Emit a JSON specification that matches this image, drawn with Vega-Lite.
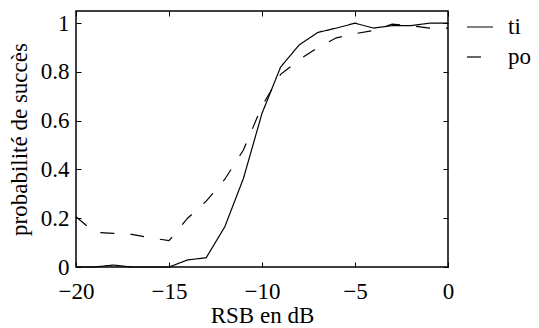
{
  "$schema": "https://vega.github.io/schema/vega-lite/v6.json",
  "width": 372,
  "height": 256,
  "autosize": {"type": "none"},
  "padding": {"left": 76, "top": 11, "right": 91, "bottom": 61},
  "background": "white",
  "config": {
    "view": {"stroke": "black", "strokeWidth": 1.5},
    "font": "Liberation Serif",
    "axis": {
      "labelFont": "Liberation Serif",
      "titleFont": "Liberation Serif",
      "labelFontSize": 23,
      "titleFontSize": 23,
      "titleFontWeight": "normal",
      "labelColor": "black",
      "titleColor": "black",
      "tickColor": "black",
      "domain": false,
      "grid": false,
      "tickSize": -5,
      "tickWidth": 1,
      "labelFlush": false
    },
    "legend": {"labelFont": "Liberation Serif"}
  },
  "data": {
    "values": [
      {"x": -20, "p": 0, "s": "ti"}, {"x": -19, "p": 0, "s": "ti"}, {"x": -18, "p": 0.008, "s": "ti"},
      {"x": -17, "p": 0, "s": "ti"}, {"x": -16, "p": 0, "s": "ti"}, {"x": -15, "p": 0, "s": "ti"},
      {"x": -14, "p": 0.029, "s": "ti"}, {"x": -13, "p": 0.038, "s": "ti"}, {"x": -12, "p": 0.165, "s": "ti"},
      {"x": -11, "p": 0.363, "s": "ti"}, {"x": -10, "p": 0.63, "s": "ti"}, {"x": -9, "p": 0.82, "s": "ti"},
      {"x": -8, "p": 0.911, "s": "ti"}, {"x": -7, "p": 0.962, "s": "ti"}, {"x": -6, "p": 0.98, "s": "ti"},
      {"x": -5, "p": 1.0, "s": "ti"}, {"x": -4, "p": 0.98, "s": "ti"}, {"x": -3, "p": 0.99, "s": "ti"},
      {"x": -2, "p": 0.99, "s": "ti"}, {"x": -1, "p": 1.0, "s": "ti"}, {"x": 0, "p": 1.0, "s": "ti"},
      {"x": -20, "p": 0.206, "s": "po"}, {"x": -19, "p": 0.142, "s": "po"}, {"x": -18, "p": 0.138, "s": "po"},
      {"x": -17, "p": 0.134, "s": "po"}, {"x": -16, "p": 0.12, "s": "po"}, {"x": -15, "p": 0.108, "s": "po"},
      {"x": -14, "p": 0.2, "s": "po"}, {"x": -13, "p": 0.27, "s": "po"}, {"x": -12, "p": 0.36, "s": "po"},
      {"x": -11, "p": 0.48, "s": "po"}, {"x": -10, "p": 0.66, "s": "po"}, {"x": -9, "p": 0.79, "s": "po"},
      {"x": -8, "p": 0.85, "s": "po"}, {"x": -7, "p": 0.9, "s": "po"}, {"x": -6, "p": 0.94, "s": "po"},
      {"x": -5, "p": 0.957, "s": "po"}, {"x": -4, "p": 0.97, "s": "po"}, {"x": -3, "p": 0.996, "s": "po"},
      {"x": -2, "p": 0.99, "s": "po"}, {"x": -1, "p": 0.98, "s": "po"}, {"x": 0, "p": 0.98, "s": "po"}
    ]
  },
  "layer": [
    {
      "mark": {"type": "line", "color": "black", "strokeWidth": 1.2},
      "encoding": {
        "x": {"field": "x", "type": "quantitative", "scale": {"domain": [-20, 0], "nice": false, "zero": false},
              "axis": {"values": [-20, -15, -10, -5, 0], "title": "RSB en dB", "labelPadding": 18, "titlePadding": 1}},
        "y": {"field": "p", "type": "quantitative", "scale": {"domain": [0, 1.05], "nice": false},
              "axis": {"values": [0, 0.2, 0.4, 0.6, 0.8, 1], "format": "~g", "title": "probabilité de succès", "labelPadding": 12, "titlePadding": 9}},
        "strokeDash": {"field": "s", "type": "nominal",
          "scale": {"domain": ["ti", "po"], "range": [[1, 0], [14, 16]]},
          "legend": {"title": null, "orient": "none", "legendX": 390, "legendY": 2,
                     "symbolType": "stroke", "symbolSize": 676, "symbolStrokeColor": "black", "symbolStrokeWidth": 1.2,
                     "labelFontSize": 23, "labelColor": "black", "labelOffset": 14, "rowPadding": 4,
                     "encode": {"symbols": {"update": {"strokeDash": {"signal": "datum.value === 'po' ? [14, 8] : [1, 0]"}}}}}}
      }
    },
    {
      "mark": {"type": "line", "opacity": 0},
      "encoding": {
        "x": {"field": "x", "type": "quantitative", "axis": {"orient": "top", "values": [-20, -15, -10, -5, 0], "labels": false, "title": null}},
        "y": {"field": "p", "type": "quantitative", "axis": {"orient": "right", "values": [0, 0.2, 0.4, 0.6, 0.8, 1], "labels": false, "title": null}}
      }
    }
  ],
  "resolve": {"axis": {"x": "independent", "y": "independent"}}
}
